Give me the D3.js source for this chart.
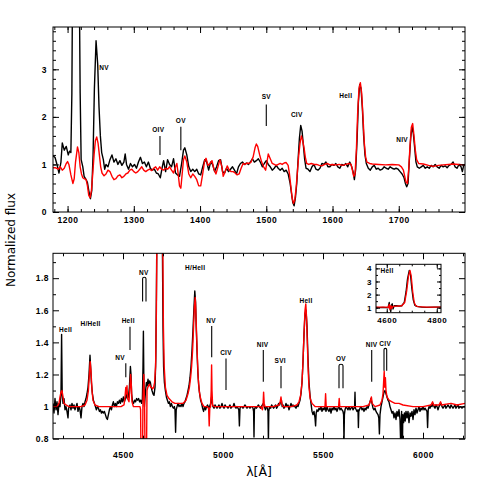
<!DOCTYPE html>
<html><head><meta charset="utf-8">
<script src="https://cdn.jsdelivr.net/npm/d3@7/dist/d3.min.js"></script>
<style>
html,body{margin:0;padding:0;background:#fff}
svg{display:block}
.tk text{font-family:"Liberation Sans",Arial,sans-serif;font-weight:bold;letter-spacing:0.5px}
.lbl{font-family:"Liberation Sans",Arial,sans-serif;font-weight:bold;font-size:6.5px;letter-spacing:0.3px;fill:#000}
.ttl{font-family:"DejaVu Sans",sans-serif}
</style></head><body>
<svg id="fig" width="491" height="491"></svg>
<script>
// ── UV (panneau du haut) : observé (noir) / modèle (rouge), [λ, flux] ─────
var uvObs=[[1178,1.18],[1181,1.15],[1184,1.0],[1187,0.82],[1190,1.05],[1192,1.45],[1195,1.3],[1198,1.38],[1201,1.2],[1203,1.28],[1205,1.25],[1206.5,2.5],[1208,6],[1213,7],[1217,6],[1219,2.5],[1220.5,1.1],[1223,0.95],[1225,0.75],[1228,0.68],[1230,0.62],[1232,0.45],[1234.5,0.28],[1236.5,0.45],[1238.5,1.2],[1240.5,2.6],[1243,3.6],[1245.5,3.1],[1247.5,2.2],[1249.5,1.6],[1251.5,1.25],[1254,1.1],[1256,0.9],[1258,1.0],[1261,0.95],[1264,1.1],[1267,1.2],[1270,1.05],[1273,1.12],[1276,1.0],[1279,1.08],[1282,0.98],[1285,1.05],[1287,1.22],[1289,1.0],[1292,0.9],[1295,1.02],[1298,0.95],[1301,1.0],[1304,0.92],[1307,1.05],[1310,1.15],[1313,1.02],[1316,1.05],[1319,0.95],[1322,1.05],[1325,0.92],[1328,0.88],[1331,0.9],[1334,0.82],[1337,0.8],[1340,0.72],[1343,0.95],[1345,1.08],[1348,0.85],[1351,1.1],[1354,1.0],[1357,0.95],[1360,1.12],[1363,0.82],[1366,0.78],[1369,0.75],[1372,1.0],[1375,1.3],[1377,1.35],[1380,1.2],[1383,0.95],[1386,0.85],[1389,0.9],[1392,0.85],[1395,0.9],[1398,0.8],[1401,0.78],[1404,0.95],[1407,1.1],[1410,1.05],[1413,0.88],[1416,1.05],[1419,1.0],[1422,0.85],[1425,0.95],[1428,1.08],[1431,1.1],[1434,0.85],[1437,0.82],[1440,0.92],[1443,0.85],[1446,0.9],[1449,0.95],[1452,0.88],[1455,0.8],[1458,0.95],[1461,1.02],[1464,1.05],[1467,1.0],[1470,1.03],[1473,1.0],[1476,1.05],[1479,1.12],[1482,1.05],[1485,1.08],[1488,1.12],[1491,1.05],[1494,0.95],[1497,1.02],[1500,1.08],[1503,1.0],[1506,0.95],[1509,0.88],[1512,0.92],[1515,0.98],[1518,0.92],[1521,0.88],[1524,0.92],[1527,0.85],[1530,0.88],[1533,0.8],[1536,0.6],[1538,0.4],[1540,0.2],[1542,0.13],[1544,0.3],[1546,0.6],[1548,1.1],[1550,1.55],[1552,1.82],[1554,1.7],[1556,1.4],[1558,1.1],[1560,0.92],[1563,0.9],[1566,0.85],[1569,0.95],[1572,1.0],[1575,0.9],[1578,0.88],[1581,0.92],[1584,1.02],[1587,1.0],[1590,1.05],[1593,0.95],[1596,0.95],[1599,1.0],[1602,0.98],[1605,1.02],[1608,0.95],[1611,0.92],[1614,1.0],[1617,0.98],[1620,1.02],[1623,0.95],[1626,1.05],[1629,0.95],[1631,0.85],[1633,0.68],[1635,0.9],[1637,1.5],[1639,2.3],[1641,2.68],[1643,2.6],[1645,2.2],[1647,1.6],[1649,1.2],[1651,1.02],[1654,0.92],[1657,0.88],[1660,0.95],[1663,0.98],[1666,0.9],[1669,0.92],[1672,0.88],[1675,0.9],[1678,0.95],[1681,0.92],[1684,0.9],[1687,0.95],[1690,0.92],[1693,0.9],[1696,0.92],[1699,0.9],[1702,0.85],[1705,0.8],[1708,0.72],[1710,0.6],[1712,0.53],[1714,0.6],[1716,1.1],[1718,1.55],[1720,1.8],[1722,1.65],[1724,1.35],[1726,1.05],[1728,0.95],[1731,0.92],[1734,0.95],[1737,0.98],[1740,0.92],[1743,0.95],[1746,0.92],[1749,0.98],[1752,0.95],[1755,1.0],[1758,0.95],[1761,0.92],[1764,0.98],[1767,0.95],[1770,0.97],[1773,0.93],[1776,0.98],[1779,1.0],[1782,1.05],[1785,0.95],[1788,0.92],[1791,1.0],[1794,0.95],[1796,0.85],[1798,0.98],[1800,1.0]];
var uvMod=[[1178,0.93],[1182,0.93],[1186,0.9],[1189,0.95],[1192,0.88],[1195,0.92],[1198,1.02],[1200,1.06],[1202,1.0],[1205,0.78],[1208,0.6],[1210,0.7],[1212,1.05],[1215,1.37],[1217,1.25],[1219,0.95],[1221,0.8],[1223,0.72],[1225,0.7],[1228,0.68],[1230,0.55],[1232,0.35],[1234,0.3],[1236,0.45],[1238,0.8],[1240,1.2],[1242,1.5],[1244,1.58],[1246,1.45],[1248,1.2],[1250,0.95],[1252,0.82],[1255,0.76],[1258,0.8],[1261,0.88],[1264,0.85],[1267,0.75],[1270,0.68],[1273,0.7],[1276,0.76],[1279,0.78],[1282,0.72],[1285,0.75],[1288,0.8],[1291,0.82],[1294,0.88],[1297,0.9],[1300,0.85],[1303,0.82],[1306,0.85],[1309,0.9],[1312,0.95],[1315,0.88],[1318,0.85],[1321,0.88],[1324,0.9],[1327,0.87],[1330,0.92],[1333,0.95],[1336,0.88],[1339,0.95],[1342,0.9],[1345,0.88],[1348,0.92],[1351,0.9],[1354,0.95],[1357,0.88],[1360,0.82],[1363,0.95],[1365,1.02],[1367,0.8],[1369,0.55],[1371,0.5],[1373,0.8],[1375,1.1],[1377,1.18],[1380,1.05],[1383,0.8],[1386,0.72],[1389,0.8],[1392,0.75],[1395,0.68],[1398,0.55],[1401,0.55],[1404,0.8],[1407,1.08],[1409,1.13],[1412,0.98],[1415,1.02],[1418,1.08],[1421,0.9],[1424,0.8],[1427,0.95],[1430,1.1],[1433,0.95],[1435,0.75],[1438,0.85],[1441,0.97],[1444,0.88],[1447,0.85],[1450,0.85],[1453,0.82],[1456,0.78],[1459,0.8],[1462,0.92],[1465,1.02],[1468,1.0],[1471,1.03],[1474,1.02],[1477,1.05],[1480,1.15],[1483,1.35],[1485,1.43],[1487,1.38],[1490,1.2],[1493,1.05],[1496,0.95],[1499,0.88],[1501,1.05],[1503,1.22],[1506,1.12],[1509,1.02],[1512,1.0],[1515,0.98],[1518,1.0],[1521,1.02],[1524,1.0],[1527,1.03],[1530,1.04],[1533,0.98],[1535,0.8],[1537,0.55],[1539,0.3],[1541,0.18],[1543,0.25],[1545,0.5],[1547,0.85],[1549,1.2],[1551,1.45],[1553,1.6],[1555,1.5],[1557,1.35],[1559,1.15],[1561,1.02],[1564,1.0],[1568,1.02],[1572,1.0],[1576,1.0],[1580,0.98],[1584,0.97],[1588,1.0],[1592,1.02],[1596,0.99],[1600,1.0],[1605,0.99],[1610,1.0],[1615,0.98],[1620,1.0],[1625,1.02],[1628,1.0],[1630,0.88],[1632,0.75],[1634,0.8],[1636,1.3],[1638,2.1],[1640,2.6],[1642,2.72],[1644,2.5],[1646,2.0],[1648,1.45],[1650,1.15],[1652,1.05],[1656,1.02],[1660,1.01],[1670,1.0],[1680,0.99],[1690,1.0],[1700,0.99],[1704,0.95],[1707,0.88],[1709,0.75],[1711,0.63],[1713,0.6],[1715,0.9],[1717,1.4],[1719,1.78],[1721,1.86],[1723,1.6],[1725,1.3],[1727,1.1],[1730,1.02],[1737,1.01],[1745,0.98],[1752,0.96],[1760,0.98],[1767,0.99],[1775,1.0],[1782,1.01],[1790,1.0],[1800,0.99]];

// ── Optique (panneau du bas) ───────────────────────────────────────────────
var optObs=[[4150,1.02],[4155,0.96],[4160,1.05],[4165,0.98],[4170,1.03],[4175,0.95],[4180,1.02],[4185,1.0],[4190,1.08],[4193,1.45],[4196,1.08],[4200,1.02],[4205,1.05],[4210,0.98],[4215,1.0],[4220,0.97],[4225,0.93],[4228,0.99],[4235,1.01],[4240,0.98],[4245,1.02],[4250,0.99],[4255,1.01],[4260,0.98],[4265,1.0],[4270,1.02],[4275,0.97],[4280,1.0],[4285,0.98],[4290,0.93],[4295,1.0],[4300,1.02],[4305,1.0],[4310,1.03],[4315,1.05],[4320,1.08],[4325,1.12],[4330,1.2],[4335,1.32],[4338,1.25],[4342,1.15],[4347,1.08],[4352,1.04],[4357,1.02],[4362,1.0],[4367,0.98],[4372,1.0],[4377,0.99],[4382,0.97],[4387,0.98],[4392,0.96],[4397,0.97],[4402,0.96],[4407,0.97],[4412,0.95],[4417,0.93],[4422,0.92],[4427,0.95],[4432,0.98],[4437,1.0],[4442,0.98],[4447,1.01],[4452,1.03],[4457,1.0],[4462,1.02],[4467,1.0],[4472,1.03],[4477,1.02],[4482,1.04],[4487,1.02],[4492,1.05],[4497,1.03],[4502,1.06],[4507,1.03],[4512,1.05],[4517,1.08],[4522,1.05],[4527,1.06],[4532,1.12],[4537,1.25],[4540,1.2],[4543,1.08],[4548,1.03],[4553,1.02],[4558,1.04],[4563,1.03],[4568,1.05],[4573,1.04],[4578,1.05],[4583,1.03],[4588,1.04],[4593,1.02],[4597,1.05],[4600,1.25],[4602,1.47],[4604,1.2],[4607,1.0],[4610,1.05],[4613,1.1],[4617,1.15],[4621,1.13],[4625,1.17],[4629,1.14],[4633,1.16],[4637,1.15],[4641,1.12],[4645,1.1],[4650,1.08],[4655,1.07],[4660,1.12],[4664,1.3],[4667,1.7],[4670,2.2],[4675,3],[4690,3],[4697,2.0],[4700,1.5],[4703,1.25],[4707,1.15],[4712,1.1],[4717,1.06],[4722,1.04],[4727,1.02],[4732,1.03],[4737,1.0],[4742,1.02],[4747,1.0],[4752,0.99],[4757,1.0],[4760,0.98],[4763,0.84],[4766,0.98],[4770,1.0],[4775,1.02],[4780,1.0],[4785,1.01],[4790,1.0],[4795,1.02],[4800,1.0],[4805,1.02],[4810,1.03],[4815,1.05],[4820,1.07],[4825,1.1],[4830,1.13],[4835,1.18],[4840,1.25],[4845,1.35],[4850,1.48],[4855,1.62],[4859,1.72],[4863,1.65],[4866,1.5],[4870,1.35],[4874,1.22],[4878,1.14],[4883,1.08],[4888,1.04],[4893,1.02],[4898,0.99],[4903,0.97],[4908,1.0],[4913,0.98],[4918,1.0],[4923,1.01],[4928,0.99],[4933,1.0],[4938,1.02],[4943,1.06],[4946,1.02],[4950,1.0],[4955,0.99],[4960,1.01],[4965,1.0],[4970,0.99],[4975,1.0],[4980,1.01],[4985,0.99],[4990,1.0],[4995,1.02],[5000,1.0],[5005,0.99],[5010,1.01],[5015,1.0],[5020,1.0],[5025,0.99],[5030,1.0],[5035,1.01],[5040,0.99],[5045,1.0],[5050,1.0],[5055,1.02],[5060,1.0],[5065,0.99],[5070,1.0],[5075,0.99],[5079,0.98],[5082,0.88],[5085,0.99],[5090,1.0],[5095,1.0],[5100,0.99],[5105,1.0],[5110,1.01],[5115,1.0],[5120,0.99],[5125,1.0],[5130,1.0],[5135,0.99],[5140,1.0],[5145,1.0],[5150,0.99],[5153,0.97],[5155,0.81],[5157,0.98],[5162,1.0],[5167,0.99],[5172,1.0],[5177,1.01],[5182,1.0],[5187,0.99],[5192,1.0],[5197,1.01],[5202,1.02],[5207,1.0],[5212,0.98],[5217,1.0],[5222,0.99],[5225,0.97],[5227,0.78],[5229,0.97],[5233,1.0],[5238,0.99],[5243,1.01],[5248,1.0],[5253,0.99],[5258,1.0],[5263,1.01],[5268,0.99],[5273,1.0],[5278,1.02],[5283,1.01],[5288,1.03],[5292,1.04],[5296,1.0],[5300,1.01],[5305,0.99],[5310,1.0],[5315,1.02],[5320,1.0],[5325,1.01],[5330,0.98],[5335,1.0],[5340,1.02],[5345,1.0],[5350,1.01],[5355,1.0],[5360,1.0],[5365,0.99],[5370,1.01],[5375,1.0],[5380,1.02],[5385,1.04],[5390,1.08],[5395,1.15],[5400,1.28],[5405,1.45],[5410,1.58],[5415,1.6],[5420,1.5],[5425,1.3],[5430,1.15],[5435,1.07],[5440,1.02],[5445,0.97],[5450,0.95],[5455,0.97],[5460,0.93],[5463,0.88],[5466,0.96],[5470,0.98],[5475,0.97],[5480,0.99],[5485,0.98],[5490,1.0],[5495,0.97],[5500,0.99],[5505,0.98],[5510,1.0],[5515,0.97],[5520,1.0],[5525,0.98],[5530,0.97],[5535,0.99],[5540,0.96],[5545,0.99],[5550,0.98],[5555,1.0],[5560,0.98],[5565,0.99],[5570,0.97],[5575,0.99],[5580,1.0],[5585,0.98],[5590,0.99],[5595,0.98],[5600,0.97],[5603,0.95],[5605,0.78],[5607,0.95],[5610,0.98],[5615,1.0],[5620,0.99],[5625,0.98],[5630,1.0],[5635,0.98],[5640,0.99],[5645,1.0],[5650,0.98],[5655,0.99],[5658,1.0],[5660,1.09],[5662,0.99],[5666,0.98],[5670,0.97],[5675,0.98],[5677,0.87],[5679,0.97],[5685,0.99],[5690,1.0],[5695,0.98],[5700,0.99],[5705,0.97],[5710,0.99],[5715,0.98],[5720,1.0],[5725,0.99],[5730,1.01],[5735,1.03],[5740,1.05],[5745,1.02],[5750,0.99],[5755,0.98],[5760,0.99],[5765,0.97],[5770,0.96],[5775,0.95],[5779,0.93],[5782,0.83],[5785,0.95],[5790,1.0],[5795,1.03],[5800,1.06],[5805,1.09],[5810,1.1],[5815,1.08],[5820,1.06],[5825,1.04],[5830,1.03],[5835,1.0],[5840,0.98],[5845,0.96],[5850,0.97],[5855,0.93],[5860,0.96],[5865,0.92],[5870,0.97],[5875,0.94],[5880,0.98],[5885,0.92],[5890,0.7],[5893,0.97],[5896,0.6],[5899,0.95],[5903,0.9],[5907,0.96],[5911,0.91],[5915,0.97],[5920,0.93],[5925,0.97],[5930,0.9],[5935,0.96],[5940,0.94],[5945,0.97],[5950,0.92],[5955,0.98],[5960,0.95],[5965,0.99],[5970,0.96],[5975,0.98],[5980,1.0],[5985,0.97],[5990,0.99],[5995,0.98],[6000,1.0],[6005,0.98],[6010,0.99],[6015,0.98],[6020,0.97],[6023,0.87],[6026,0.98],[6030,1.0],[6035,0.99],[6040,1.01],[6045,1.0],[6050,1.02],[6055,1.0],[6060,0.99],[6065,1.01],[6070,1.0],[6075,0.98],[6080,1.0],[6085,1.01],[6090,1.02],[6095,1.0],[6100,0.99],[6105,1.0],[6110,1.01],[6115,0.99],[6120,1.0],[6125,1.01],[6130,1.0],[6135,0.99],[6140,1.01],[6145,1.0],[6150,0.99],[6155,1.0],[6160,1.01],[6165,0.99],[6170,1.0],[6175,1.01],[6180,0.99],[6185,1.0],[6190,1.0],[6195,0.99],[6200,1.0],[6210,1.0]];
var optMod=[[4150,1.0],[4170,1.0],[4180,1.02],[4185,1.06],[4190,1.09],[4195,1.1],[4200,1.06],[4205,1.02],[4215,1.01],[4230,1.0],[4260,1.0],[4290,1.0],[4310,1.01],[4320,1.04],[4327,1.1],[4332,1.2],[4336,1.28],[4340,1.22],[4345,1.1],[4350,1.04],[4360,1.01],[4380,1.0],[4420,1.0],[4460,1.0],[4490,1.0],[4505,1.01],[4510,1.06],[4514,1.12],[4517,1.08],[4520,1.13],[4523,1.05],[4530,1.03],[4535,1.12],[4538,1.2],[4541,1.15],[4545,1.03],[4552,1.0],[4570,1.0],[4585,1.0],[4588,0.98],[4591,0.5],[4594,0.4],[4597,0.6],[4600,1.05],[4604,1.2],[4608,1.0],[4611,0.6],[4614,0.4],[4617,0.6],[4620,1.1],[4624,1.12],[4628,1.13],[4633,1.14],[4638,1.12],[4643,1.12],[4648,1.11],[4653,1.12],[4658,1.15],[4663,1.25],[4667,1.6],[4671,2.3],[4676,3.2],[4686,3.8],[4695,3.2],[4699,2.0],[4702,1.5],[4706,1.25],[4712,1.12],[4720,1.07],[4730,1.05],[4745,1.03],[4760,1.02],[4780,1.02],[4800,1.02],[4815,1.04],[4825,1.08],[4832,1.12],[4838,1.18],[4843,1.25],[4848,1.35],[4853,1.5],[4857,1.62],[4861,1.68],[4864,1.6],[4868,1.45],[4872,1.3],[4876,1.18],[4881,1.1],[4888,1.05],[4895,1.02],[4905,1.0],[4920,1.0],[4928,0.99],[4931,0.88],[4934,0.99],[4938,1.0],[4941,1.1],[4943,1.26],[4945,1.1],[4948,1.01],[4955,1.0],[4970,1.0],[5000,1.0],[5050,1.0],[5100,1.0],[5150,1.0],[5190,1.0],[5197,0.98],[5200,1.0],[5203,1.09],[5206,1.02],[5210,1.0],[5250,1.0],[5280,1.01],[5286,1.03],[5290,1.06],[5294,1.02],[5300,1.0],[5340,1.0],[5370,1.01],[5380,1.03],[5388,1.07],[5395,1.15],[5400,1.28],[5405,1.45],[5410,1.6],[5414,1.64],[5418,1.55],[5422,1.38],[5426,1.22],[5430,1.12],[5436,1.05],[5445,1.02],[5460,1.0],[5500,1.0],[5510,1.0],[5513,1.08],[5516,1.0],[5540,1.0],[5578,1.0],[5581,1.05],[5584,1.0],[5620,1.0],[5700,1.0],[5730,1.01],[5738,1.04],[5742,1.06],[5746,1.02],[5760,1.0],[5785,1.01],[5795,1.04],[5800,1.08],[5803,1.15],[5806,1.22],[5809,1.12],[5812,1.18],[5815,1.1],[5820,1.06],[5830,1.04],[5845,1.03],[5860,1.02],[5880,1.02],[5900,1.01],[5950,1.0],[6000,1.0],[6040,1.01],[6048,1.03],[6052,1.01],[6080,1.01],[6088,1.03],[6092,1.01],[6140,1.02],[6170,1.01],[6210,1.02]];

// ── Encart HeII 4686 ───────────────────────────────────────────────────────
var insObs=[[4557,1.02],[4570,1.0],[4585,1.02],[4595,1.0],[4605,1.0],[4610,1.4],[4613,0.95],[4616,0.7],[4619,1.2],[4622,1.3],[4625,0.9],[4630,1.15],[4640,1.15],[4650,1.12],[4660,1.15],[4670,1.4],[4677,2.2],[4683,3.2],[4690,3.85],[4695,3.5],[4700,2.5],[4706,1.6],[4712,1.2],[4720,1.1],[4740,1.05],[4760,1.03],[4790,1.05],[4817,1.05]];
var insMod=[[4557,1.05],[4600,1.05],[4606,1.0],[4610,1.25],[4613,0.85],[4617,1.15],[4620,0.95],[4625,1.1],[4640,1.12],[4660,1.15],[4672,1.4],[4680,2.3],[4687,3.4],[4693,3.85],[4698,3.4],[4704,2.2],[4710,1.4],[4716,1.15],[4725,1.08],[4760,1.05],[4817,1.05]];

// ── Identifications de raies : [texte, λ, flux] ; traits [λ, f1, f2] ─────
var uvIds=[["NV",1255,3.03],["OIV",1337,1.72],["OV",1371,1.92],["SV",1500,2.42],["CIV",1546,2.04],["HeII",1620,2.44],["NIV",1705,1.53]];
var uvTicks=[[1339.5,1.2,1.6],[1371,1.3,1.79],[1500,1.81,2.26]];
var optIds=[["HeII",4213,1.48],["H/HeII",4338,1.515],["NV",4485,1.305],["HeII",4526,1.535],["NV",4604,1.837],["H/HeII",4861,1.868],["NV",4940,1.535],["CIV",5015,1.338],["NIV",5198,1.388],["SVI",5286,1.286],["HeII",5415,1.66],["OV",5590,1.297],["NIV",5743,1.384],["CIV",5811,1.394]];
var optTicks=[[4514,1.183,1.27],[4535,1.353,1.498],[4943.5,1.307,1.502],[5015,1.103,1.30],[5201.5,1.155,1.353],[5290,1.114,1.253],[5743.5,1.155,1.353]];
var optPairs=[[4598,4615,1.654,1.806],[5580,5600,1.114,1.264],[5805,5818.5,1.224,1.363]];

// ── MISE EN PAGE ──────────────────────────────────────────────────────────
var svg=d3.select("#fig");
var defs=svg.append("defs");

// Cadre + graduations rentrantes sur les 4 côtés (style PGPLOT)
function frame(g,x,y,o){
  var xr=x.range(),yr=y.range();
  var ax=[
    [d3.axisBottom,x,yr[0],o.xMaj,o.xMin,o.xFmt,o.xPad],
    [d3.axisTop,x,yr[1],o.xMaj,o.xMin,null,0],
    [d3.axisLeft,y,xr[0],o.yMaj,o.yMin,o.yFmt,o.yPad],
    [d3.axisRight,y,xr[1],o.yMaj,o.yMin,null,0]
  ];
  ax.forEach(function(a,i){
    var tr=i<2?"translate(0,"+a[2]+")":"translate("+a[2]+",0)";
    var gm=g.append("g").attr("class","tk").attr("transform",tr)
      .call(a[0](a[1]).tickValues(a[3]).tickSize(-o.maj).tickPadding(a[6]).tickFormat(a[5]||""));
    gm.attr("font-size",o.fs).attr("font-family",null);
    gm.select(".domain").remove();
    var gn=g.append("g").attr("transform",tr)
      .call(a[0](a[1]).tickValues(a[4]).tickSize(-o.min).tickFormat(""));
    gn.select(".domain").remove();
  });
  g.append("rect").attr("x",xr[0]).attr("y",yr[1])
    .attr("width",xr[1]-xr[0]).attr("height",yr[0]-yr[1])
    .attr("fill","none").attr("stroke","#000").attr("stroke-width",1);
}

function spectra(g,id,x,y,obs,mod,w){
  var yr=y.range(),xr=x.range();
  defs.append("clipPath").attr("id",id).append("rect")
    .attr("x",xr[0]).attr("y",yr[1]).attr("width",xr[1]-xr[0]).attr("height",yr[0]-yr[1]);
  var line=d3.line().x(function(d){return x(d[0]);}).y(function(d){return y(d[1]);});
  var c=g.append("g").attr("clip-path","url(#"+id+")");
  c.append("path").datum(obs).attr("d",line).attr("fill","none").attr("stroke","#000").attr("stroke-width",w).attr("stroke-linejoin","round");
  c.append("path").datum(mod).attr("d",line).attr("fill","none").attr("stroke","#f00").attr("stroke-width",w).attr("stroke-linejoin","round");
}

function ids(g,x,y,labels,ticks,pairs){
  g.selectAll(null).data(labels).enter().append("text").attr("class","lbl")
    .attr("x",function(d){return x(d[1]);}).attr("y",function(d){return y(d[2]);})
    .attr("dy","0.35em").attr("text-anchor","middle").text(function(d){return d[0];});
  g.selectAll(null).data(ticks).enter().append("line")
    .attr("x1",function(d){return x(d[0]);}).attr("x2",function(d){return x(d[0]);})
    .attr("y1",function(d){return y(d[1]);}).attr("y2",function(d){return y(d[2]);})
    .attr("stroke","#000").attr("stroke-width",1.1);
  g.selectAll(null).data(pairs||[]).enter().append("path")
    .attr("d",function(d){
      var a=x(d[0]),b=x(d[1]),lo=y(d[2]),hi=y(d[3]);
      return "M"+a+","+lo+"V"+(hi+1.5)+"Q"+a+","+hi+" "+(a+b)/2+","+hi+"Q"+b+","+hi+" "+b+","+(hi+1.5)+"V"+lo;
    })
    .attr("fill","none").attr("stroke","#000").attr("stroke-width",1.1);
}

// Panneau UV
var xT=d3.scaleLinear().domain([1178,1800]).range([53,465]);
var yT=d3.scaleLinear().domain([0,3.89]).range([212,27]);
var gT=svg.append("g");
spectra(gT,"cT",xT,yT,uvObs,uvMod,1.4);
frame(gT,xT,yT,{xMaj:[1200,1300,1400,1500,1600,1700],xMin:d3.range(1180,1800,20),
  yMaj:[0,1,2,3],yMin:d3.range(0,3.9,0.2),maj:6,min:3,fs:8.5,xPad:5,yPad:6,
  xFmt:d3.format("d"),yFmt:d3.format("d")});
ids(gT,xT,yT,uvIds,uvTicks);

// Panneau optique
var xB=d3.scaleLinear().domain([4150,6210]).range([53,465]);
var yB=d3.scaleLinear().domain([0.8,1.955]).range([438.7,253.3]);
var gB=svg.append("g");
spectra(gB,"cB",xB,yB,optObs,optMod,1.4);
frame(gB,xB,yB,{xMaj:[4500,5000,5500,6000],xMin:d3.range(4200,6210,100),
  yMaj:[0.8,1,1.2,1.4,1.6,1.8],yMin:d3.range(0.9,1.95,0.2),maj:6,min:3,fs:8.5,xPad:13,yPad:4,
  xFmt:d3.format("d"),yFmt:function(v){return String(+v.toFixed(1));}});
ids(gB,xB,yB,optIds,optTicks,optPairs);

// Encart
var xI=d3.scaleLinear().domain([4557,4817]).range([376,441]);
var yI=d3.scaleLinear().domain([0.62,4.31]).range([312.7,264.3]);
var gI=svg.append("g");
gI.append("rect").attr("x",376).attr("y",264.3).attr("width",65).attr("height",48.4).attr("fill","#fff");
spectra(gI,"cI",xI,yI,insObs,insMod,1.3);
frame(gI,xI,yI,{xMaj:[4600,4800],xMin:d3.range(4600,4817,50),
  yMaj:[1,2,3,4],yMin:d3.range(1,4.3,0.5),maj:4,min:2,fs:8,xPad:5,yPad:4,
  xFmt:d3.format("d"),yFmt:d3.format("d")});
gI.append("text").attr("class","lbl").attr("x",387).attr("y",271).attr("dy","0.35em")
  .attr("text-anchor","middle").text("HeII");

// Titres d'axes
svg.append("text").attr("class","ttl").attr("transform","translate(15,240) rotate(-90)")
  .attr("text-anchor","middle").attr("font-size",12).text("Normalized flux");
svg.append("text").attr("class","ttl").attr("x",259).attr("y",476)
  .attr("text-anchor","middle").attr("font-size",12.5).text("λ[Å]");
</script>
</body></html>
